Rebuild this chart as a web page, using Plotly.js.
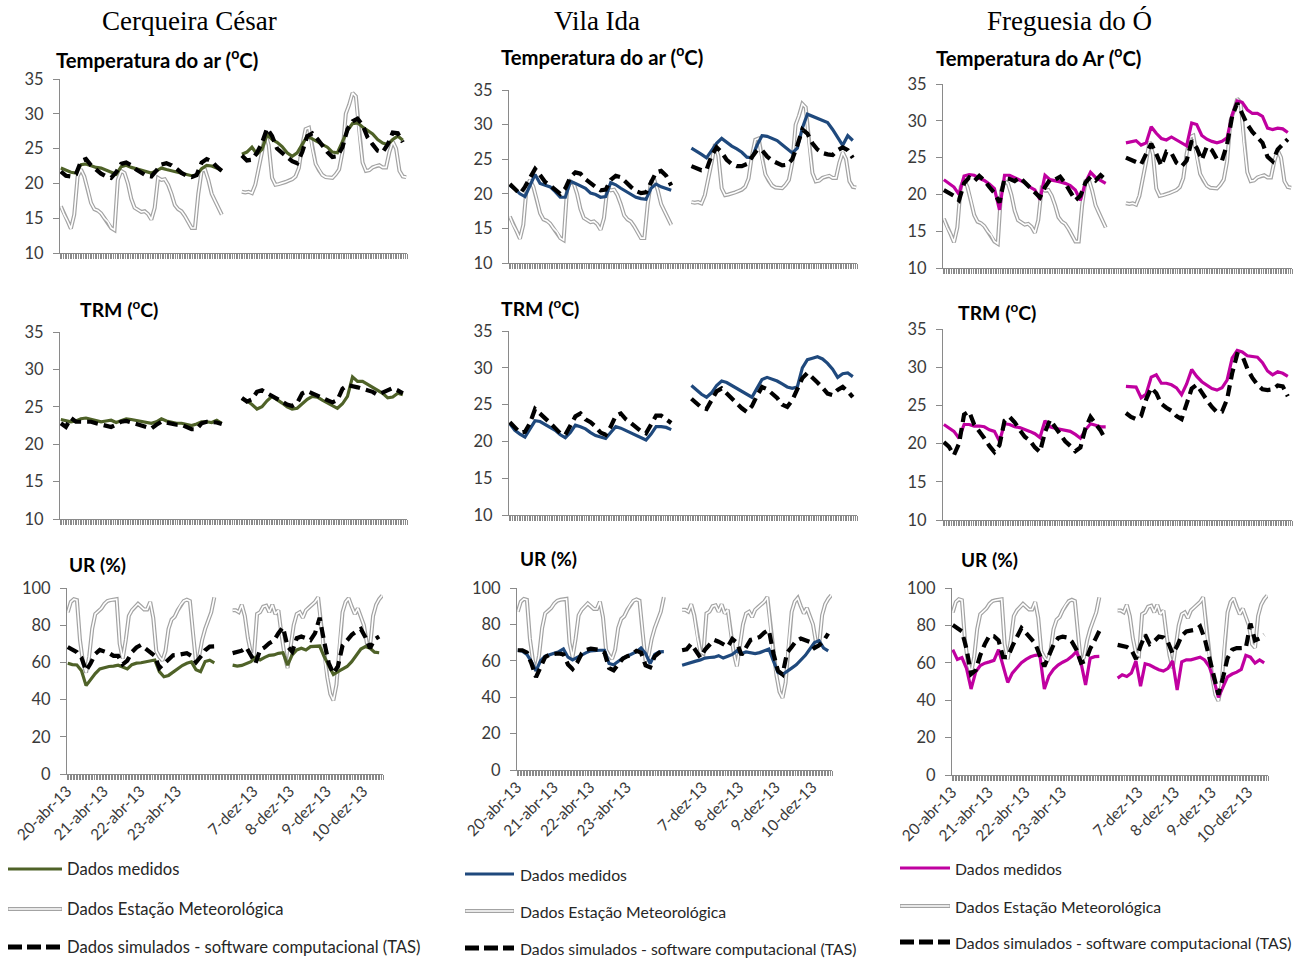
<!DOCTYPE html>
<html>
<head>
<meta charset="utf-8">
<script src="https://cdn.plot.ly/plotly-3.0.1.min.js"></script>
<style>html,body{margin:0;padding:0;background:#fff;}#chart{width:1301px;height:958px;}</style>
</head>
<body>
<div id="chart"></div>
<script>
// ---------- categories (hour index of the series) ----------
const hoursApr3 = [0,3,6,9,12,15,18,21,24,27,30,33,36,39,42,45,48,51,54,57,60,63,66,69,72,75,78,81,84,87,90,93,96];
const hoursDec3 = [108,111,114,117,120,123,126,129,132,135,138,141,144,147,150,153,156,159,162,165,168,171,174,177,180,183,186,189,192,195,198,201,204];
const hoursApr2 = [0,2,4,6,8,10,12,14,16,18,20,22,24,26,28,30,32,34,36,38,40,42,44,46,48,50,52,54,56,58,60,62,64,66,68,70,72,74,76,78,80,82,84,86,88,90,92,94,96];
const hoursDec2 = [108,110,112,114,116,118,120,122,124,126,128,130,132,134,136,138,140,142,144,146,148,150,152,154,156,158,160,162,164,166,168,170,172,174,176,178,180,182,184,186,188,190,192,194,196,198,200,202,204,206];
const gapHour = 102;
const dayTickHours = [1.5,25.5,49.5,73.5,123.5,147.5,171.5,195.5];
const dayLabels = ['20-abr-13','21-abr-13','22-abr-13','23-abr-13','7-dez-13','8-dez-13','9-dez-13','10-dez-13'];

// ---------- weather station (same for the three sites) ----------
const stationTempApr = [16.7,15.5,14.6,13.5,15.5,21.0,22.0,21.0,19.2,17.2,16.3,16.1,15.7,15.0,14.5,13.6,13.3,20.5,21.8,21.5,20.0,17.8,16.5,16.2,15.9,16.0,15.6,14.8,16.5,20.8,20.5,20.6,19.8,18.5,16.9,16.3,16.0,15.3,14.5,13.6,13.6,18.5,21.8,22.0,20.5,18.5,17.5,16.5,15.5];
const stationTempDec = [18.8,18.7,18.8,18.6,19.8,22.0,24.5,27.2,25.5,20.8,19.8,19.9,20.0,20.2,20.4,20.6,21.0,22.2,25.5,27.8,28.0,25.0,22.8,21.9,21.2,20.9,20.8,20.8,21.3,22.0,24.5,30.0,31.3,33.0,32.5,27.0,23.0,21.8,21.9,22.3,22.5,22.6,22.3,22.3,24.5,26.0,25.0,21.8,21.0,20.9];
const stationURApr = [87,92.5,94,93.5,72,60,54.5,63,78,86,87.5,89,91.5,93,93.5,93.7,94,70,62,72,85,88,90,91.5,90,88.5,88.5,92.5,84,66,63,61,66,78,83,84.5,88,91,93,93.7,93,76,60,63,72,78,83,87,95];
const stationURDec = [88,88,87,91,85,73,65,64,86,87,90,90.5,87,91,86,88,75,64,57,70,80,86,87,84,88,89.5,91,92.5,95,80,63,52,43,39.6,48,70,87,92.5,94.5,90,86,89,85,80,70,68,85,91,94,96];

// ---------- Cerqueira César ----------
const ccTempMedApr = [22.2,21.9,21.6,21.5,22.7,22.8,22.5,22.3,22.2,21.9,21.5,21.3,22.4,22.6,22.3,22.1,21.9,21.7,21.5,21.8,22.2,22.0,21.8,21.6,21.4,21.3,21.1,21.2,22.1,22.6,22.5,22.2,21.9];
const ccTempMedDec = [24.2,24.5,25.2,24.2,24.9,27.0,26.3,25.9,25.3,24.4,23.9,24.4,25.6,26.8,26.4,26.0,25.7,25.2,24.5,24.4,26.0,27.6,28.6,28.7,28.1,27.6,27.1,26.3,25.8,25.6,26.3,26.8,26.2];
const ccTempSimApr = [21.7,21.1,21.0,21.3,23.2,23.5,22.6,21.9,21.4,21.0,20.8,21.6,22.8,23.0,22.6,22.0,21.5,21.1,21.0,21.9,22.7,22.9,22.6,22.1,21.5,21.1,20.9,21.2,23.0,23.5,23.2,22.4,21.8];
const ccTempSimDec = [24.0,23.3,23.4,24.4,25.8,27.9,26.8,25.0,24.4,23.8,23.2,22.9,24.5,26.8,27.2,26.4,25.4,24.5,23.8,23.9,25.2,27.8,28.9,29.3,28.4,26.6,25.6,24.7,24.5,25.6,27.3,27.2,25.9];
const ccTrmMedApr = [23.3,23.2,23.0,23.1,23.4,23.5,23.3,23.2,23.0,23.1,23.2,22.9,23.2,23.4,23.3,23.2,23.1,23.0,22.8,23.0,23.4,23.1,22.9,22.8,22.8,22.6,22.5,22.7,23.0,23.0,22.9,23.2,22.8];
const ccTrmMedDec = [26.0,25.8,25.3,24.7,25.0,25.8,26.4,26.0,25.5,25.0,24.7,24.8,25.4,26.0,26.4,26.3,25.9,25.5,25.2,24.8,25.4,26.4,29.0,28.4,28.4,28.0,27.6,27.2,26.8,26.2,26.3,26.8,26.6];
const ccTrmSimApr = [22.8,22.3,23.5,23.0,23.0,23.0,23.0,22.8,22.6,22.4,22.3,22.6,23.0,23.1,22.9,22.6,22.4,22.2,22.1,22.6,23.0,22.9,22.7,22.6,22.6,22.3,22.0,22.0,22.8,23.0,23.0,22.9,22.7];
const ccTrmSimDec = [26.2,25.7,26.0,27.0,27.2,26.8,26.4,26.1,25.7,25.3,25.1,25.5,26.8,27.1,26.8,26.5,26.1,25.8,25.6,25.9,27.4,27.9,27.8,27.6,27.4,27.2,27.0,26.6,26.9,27.2,27.5,27.2,26.8];
const ccUrMedApr = [59.5,58.8,58.6,55.5,47.5,51,54,56.5,57.3,57.8,58.0,58.5,57.5,56.5,58.8,59.6,59.8,60.2,60.8,61.3,55,52.3,53,54.8,56.7,58.3,59.5,60.3,56,55,60.5,61.2,59.8];
const ccUrMedDec = [58.5,58.0,58.4,59.5,60.4,62.7,61.3,62.7,63.8,64.0,64.9,65.2,58.5,64.0,66.7,67.6,66.7,68.5,68.5,68.8,63.0,58.5,53.5,55.0,56.6,57.8,60.4,63.8,67.2,68.5,67.6,65.5,65.2];
const ccUrSimApr = [68.3,67.0,65.5,62.5,55.5,59.5,64.5,66.7,66.0,65.0,63.5,63.5,59.0,61.0,65.5,68.0,69.4,67.5,65.5,63.5,57.0,59.5,62.0,63.8,64.0,64.3,64.9,63.5,60.0,63.0,66.5,68.5,68.6];
const ccUrSimDec = [65.0,65.4,66.3,68.1,64.0,59.5,66.7,68.1,70.3,71.7,75.7,78.9,68.5,65.8,73.0,73.9,73.0,72.0,75.7,84.0,71.0,59.5,54.0,58.0,69.0,72.0,74.8,76.6,78.0,73.5,67.6,72.4,73.9];

// ---------- Vila Ida ----------
const viTempMedApr = [21.2,20.7,20.0,19.6,21.2,22.8,21.5,21.2,21.0,20.3,19.5,19.5,21.8,21.5,21.1,20.8,20.1,19.9,19.5,19.6,21.6,21.3,20.8,20.4,20.0,19.5,19.3,19.2,20.8,21.4,21.0,20.8,20.5];
const viTempMedDec = [26.6,26.2,25.7,25.2,26.3,27.3,28.0,27.4,26.9,26.5,26.0,25.3,25.2,27.0,28.4,28.3,28.0,27.7,27.1,26.5,25.9,26.6,29.5,31.5,31.2,30.8,30.5,30.3,29.3,28.2,27.0,28.4,27.7];
const viTempSimApr = [21.4,20.7,20.0,21.0,22.4,23.6,22.7,21.7,21.2,20.6,20.0,20.8,22.4,23.1,22.9,22.1,21.5,21.0,20.5,20.6,22.0,22.6,22.4,21.6,21.0,20.4,20.1,20.2,21.8,23.1,23.3,22.6,21.2];
const viTempSimDec = [24.0,23.7,23.4,23.5,25.5,26.7,26.0,24.9,24.3,24.0,24.0,24.3,25.2,26.3,26.3,25.4,24.8,24.4,24.1,24.2,25.0,27.0,29.3,28.7,27.3,26.4,25.9,25.7,25.6,26.3,26.7,26.3,25.2];
const viTrmMedApr = [22.4,21.5,21.0,20.6,21.7,22.8,22.7,22.3,22.0,21.5,20.9,20.5,21.2,22.2,22.0,21.7,21.2,20.8,20.6,20.4,21.2,22.0,21.8,21.5,21.2,20.9,20.6,20.2,21.0,22.0,22.0,21.9,21.6];
const viTrmMedDec = [27.6,27.0,26.4,26.0,26.6,27.6,28.2,28.0,27.6,27.2,26.7,26.4,26.0,27.2,28.4,28.7,28.5,28.2,27.8,27.4,27.2,27.4,30.0,31.1,31.3,31.5,31.2,30.6,29.8,28.7,29.2,29.3,28.8];
const viTrmSimApr = [22.6,21.8,21.2,21.3,22.5,24.4,23.8,23.1,22.5,21.8,21.1,20.9,22.3,23.4,23.8,23.0,22.6,22.0,21.2,20.9,22.0,23.5,23.8,23.0,22.5,22.0,21.4,21.1,22.4,23.5,23.5,23.0,22.5];
const viTrmSimDec = [25.8,25.1,24.6,24.4,25.6,26.8,27.2,26.5,25.7,25.1,24.5,24.0,24.8,26.2,27.4,27.1,26.5,25.9,25.0,24.7,25.6,27.0,28.6,29.3,28.7,28.0,27.3,26.5,26.3,27.0,27.4,26.8,26.0];
const viUrMedApr = [65.8,65.3,63.5,59.5,54.5,60.0,62.5,63.3,63.8,65.0,66.5,62.0,60.5,62.0,63.0,64.5,65.5,65.8,65.8,65.8,58.5,57.8,59.5,61.5,62.5,63.8,65.0,67.0,64.0,58.5,63.5,64.9,65.0];
const viUrMedDec = [57.6,58.2,59.0,59.8,60.5,61.5,61.8,62.0,62.8,61.5,62.5,63.5,65.5,64.0,64.9,64.5,64.0,64.5,65.3,66.5,60.0,53.5,52.5,54.5,56.0,57.8,60.3,63.0,66.5,70.0,71.0,67.0,65.5];
const viUrSimApr = [65.8,65.8,64.5,58.5,51.0,56.5,62.0,63.5,64.0,64.0,63.5,58.0,55.5,59.0,64.0,66.0,66.7,66.5,66.0,64.5,56.0,54.8,58.0,61.2,62.5,63.5,65.5,64.5,57.5,56.5,62.5,64.5,65.5];
const viUrSimDec = [65.8,66.3,69.3,66.0,61.8,66.0,69.0,71.5,70.5,69.0,67.8,72.0,70.0,63.2,67.0,71.5,72.2,73.1,75.5,77.0,64.0,54.5,52.5,64.5,67.6,71.0,72.2,71.5,70.4,67.0,68.5,71.0,75.0];

// ---------- Freguesia do Ó ----------
const foTempMedApr = [22.0,21.5,21.0,20.0,22.5,22.7,22.6,22.2,21.9,21.4,20.8,17.9,22.6,22.6,22.3,22.0,21.6,21.0,20.6,19.3,22.6,22.0,21.9,21.7,21.5,21.2,20.6,19.2,21.6,23.0,22.3,21.9,21.5];
const foTempMedDec = [27.0,27.1,27.3,26.7,27.0,29.2,28.3,27.6,27.4,27.8,27.4,26.9,26.6,29.7,29.5,28.0,27.5,27.2,27.0,27.2,27.7,30.8,32.7,32.5,31.5,31.0,31.0,30.6,29.0,28.8,29.0,28.9,28.4];
const foTempSimApr = [20.6,20.2,19.8,19.2,21.5,22.3,21.8,22.5,21.9,21.0,20.2,18.9,22.2,22.1,21.8,22.3,21.6,20.8,20.1,19.6,21.0,22.0,22.0,22.4,21.5,20.3,19.2,19.8,21.6,22.4,21.9,22.6,22.0];
const foTempSimDec = [25.0,24.7,24.3,24.1,25.5,26.9,25.5,23.9,25.8,25.6,24.3,23.8,24.6,27.3,26.3,24.7,26.5,26.0,24.8,24.6,26.8,30.6,32.4,30.8,29.5,28.5,27.8,27.0,25.1,24.5,26.1,26.9,27.5];
const foTrmMedApr = [22.5,22.0,21.6,20.7,22.5,22.5,22.3,22.3,22.2,21.8,21.6,20.3,22.6,22.5,22.2,22.1,21.9,21.6,21.3,20.8,23.0,22.2,22.0,21.9,21.8,21.6,21.2,20.7,21.8,22.6,22.4,22.2,22.2];
const foTrmMedDec = [27.5,27.5,27.4,26.0,26.5,28.7,29.0,27.9,27.9,27.7,27.3,26.4,27.8,29.7,28.8,28.1,27.6,27.2,27.0,27.3,28.3,31.2,32.2,32.0,31.5,31.4,31.3,30.6,29.5,29.0,29.4,29.2,28.8];
const foTrmSimApr = [20.2,19.6,18.5,20.0,23.8,24.2,22.5,21.7,20.7,19.7,18.9,19.8,23.0,23.5,22.8,21.8,20.9,20.4,19.5,18.9,21.5,23.1,22.2,21.1,20.3,19.7,19.0,19.5,22.0,23.5,22.6,21.7,20.5];
const foTrmSimDec = [24.0,23.5,23.2,23.6,25.8,27.3,26.6,25.2,24.7,24.3,23.6,23.2,25.2,27.2,27.7,26.6,25.7,24.8,24.1,24.2,25.8,29.2,31.7,31.5,29.8,28.6,27.7,27.1,27.0,27.1,27.6,27.5,26.2];
const foUrMedApr = [67.0,61.8,62.8,57.0,46.0,55.0,58.5,59.8,60.5,61.3,67.0,58.0,49.5,54.5,57.5,60.0,61.8,63.2,64.0,64.3,46.0,53.0,56.5,58.8,60.3,61.5,63.5,66.0,60.0,48.2,62.5,63.3,63.4];
const foUrMedDec = [51.8,53.6,52.7,54.5,61.0,47.5,59.5,58.8,57.5,56.3,55.6,57.0,61.0,45.5,60.5,61.6,61.6,62.3,63.0,61.5,58.0,51.0,41.5,47.0,52.5,54.0,55.0,56.5,64.0,63.0,59.8,61.5,60.0];
const foUrSimApr = [80.2,78.5,76.8,67.5,54.0,56.0,64.0,70.0,74.5,74.2,72.0,63.0,63.0,68.8,74.3,78.6,76.0,72.8,70.3,64.0,58.0,64.0,69.6,73.2,74.0,73.5,71.3,67.0,60.0,61.0,67.5,72.0,77.0];
const foUrSimDec = [69.6,68.8,68.5,67.0,62.0,69.0,75.0,70.0,71.5,74.0,73.5,71.0,65.0,69.0,74.5,76.8,77.0,77.7,79.5,73.0,63.0,54.0,43.0,52.0,62.5,67.0,67.9,67.9,68.0,81.0,72.0,73.0,75.0];

// ---------- texts ----------
const siteNames = ['Cerqueira César','Vila Ida','Freguesia do Ó'];
const panelTitles = [
  ['Temperatura do ar (<sup>o</sup>C)','TRM (<sup>o</sup>C)','UR (%)'],
  ['Temperatura do ar (<sup>o</sup>C)','TRM (<sup>o</sup>C)','UR (%)'],
  ['Temperatura do Ar (<sup>o</sup>C)','TRM (<sup>o</sup>C)','UR (%)']
];
const seriesNames = ['Dados medidos','Dados Estação Meteorológica','Dados simulados - software computacional (TAS)'];

// ---------- styling / layout ----------
const W = 1301, H = 958;
const measuredColors = ['#4F6228','#1F497D','#C000A0'];
const axisGrey = '#8a8a8a';
const stationGrey = '#a3a3a3';
const titleSizes = [20.3, 19.4, 19];
const legendSizes = [16.6, 15.8, 15.8];
// plot boxes per site [row][x0,x1,yTop,yBottom] in pixels
const boxes = [
  [[60,407,79,253],[60,407,332,519],[67,383,588,774]],
  [[509,857,90,263],[509,857,331,515],[517,832,588,770]],
  [[943,1292,84,268],[943,1292,329,520],[952,1268,588,775]]
];
const titlePos = [
  [[54,59],[78,308],[67,564]],
  [[499,56],[499,307],[518,558]],
  [[934,57],[956,311],[959,559]]
];
const siteTitleX = [189,597,1069];
const legendPos = [
  {x0:8,x1:62,tx:65,ys:[869,909,947]},
  {x0:465,x1:514,tx:518,ys:[874,911,948]},
  {x0:900,x1:950,tx:953,ys:[868,906,942]}
];

const data = {
  0: [[ccTempMedApr,ccTempMedDec,ccTempSimApr,ccTempSimDec],[ccTrmMedApr,ccTrmMedDec,ccTrmSimApr,ccTrmSimDec],[ccUrMedApr,ccUrMedDec,ccUrSimApr,ccUrSimDec]],
  1: [[viTempMedApr,viTempMedDec,viTempSimApr,viTempSimDec],[viTrmMedApr,viTrmMedDec,viTrmSimApr,viTrmSimDec],[viUrMedApr,viUrMedDec,viUrSimApr,viUrSimDec]],
  2: [[foTempMedApr,foTempMedDec,foTempSimApr,foTempSimDec],[foTrmMedApr,foTrmMedDec,foTrmSimApr,foTrmSimDec],[foUrMedApr,foUrMedDec,foUrSimApr,foUrSimDec]]
};

function joinX(a, d) { return a.concat([gapHour], d); }
function joinY(a, d) { return a.concat([null], d); }

const traces = [];
const layout = {
  width: W, height: H,
  margin: {l:0, r:0, t:0, b:0},
  paper_bgcolor: '#ffffff', plot_bgcolor: '#ffffff',
  showlegend: false,
  font: {family: 'Lato, sans-serif', color: '#3a3a3a'},
  annotations: [], shapes: []
};

let idx = 0;
for (let c = 0; c < 3; c++) {
  for (let r = 0; r < 3; r++) {
    idx++;
    const xa = idx === 1 ? 'x' : 'x' + idx;
    const ya = idx === 1 ? 'y' : 'y' + idx;
    const b = boxes[c][r];
    const isUR = r === 2;
    layout['xaxis' + (idx === 1 ? '' : idx)] = {
      domain: [b[0] / W, b[1] / W], anchor: ya,
      range: [-0.5, 206.5], fixedrange: true,
      showline: true, linecolor: axisGrey, linewidth: 1,
      showgrid: false, zeroline: false,
      tickmode: 'array', tickvals: dayTickHours, ticktext: dayLabels,
      ticks: 'outside', ticklen: 5, tickcolor: axisGrey, tickwidth: 1,
      showticklabels: isUR, tickangle: -45,
      ticklabelstandoff: -4, ticklabelshift: -3,
      tickfont: {family: 'Lato, sans-serif', size: 15.5, color: '#3a3a3a'},
      minor: {tickmode: 'linear', tick0: -0.5, dtick: 1, ticks: 'outside', ticklen: 5, tickcolor: axisGrey, tickwidth: 1, showgrid: false}
    };
    layout['yaxis' + (idx === 1 ? '' : idx)] = {
      domain: [1 - b[3] / H, 1 - b[2] / H], anchor: xa,
      range: isUR ? [0, 100] : [10, 35], dtick: isUR ? 20 : 5, tick0: 0,
      fixedrange: true,
      showline: true, linecolor: axisGrey, linewidth: 1,
      showgrid: false, zeroline: false,
      ticks: 'outside', ticklen: 6, tickcolor: axisGrey,
      ticklabelstandoff: 6,
      tickfont: {family: 'Lato, sans-serif', size: 16.5, color: '#3a3a3a'}
    };
    // station (double grey line)
    if (r !== 1) {
      const sa = r === 0 ? stationTempApr : stationURApr;
      const sd = r === 0 ? stationTempDec : stationURDec;
      const sx = joinX(hoursApr2, hoursDec2), sy = joinY(sa, sd);
      traces.push({type:'scatter', mode:'lines', x:sx, y:sy, xaxis:xa, yaxis:ya,
        line:{color:stationGrey, width:4}, hoverinfo:'skip', name:seriesNames[1]});
      traces.push({type:'scatter', mode:'lines', x:sx, y:sy, xaxis:xa, yaxis:ya,
        line:{color:'#ffffff', width:1.6}, hoverinfo:'skip', name:seriesNames[1]});
    }
    const d = data[c][r];
    traces.push({type:'scatter', mode:'lines', x:joinX(hoursApr3, hoursDec3), y:joinY(d[0], d[1]),
      xaxis:xa, yaxis:ya, line:{color:measuredColors[c], width:3.2}, name:seriesNames[0]});
    traces.push({type:'scatter', mode:'lines', x:joinX(hoursApr3, hoursDec3), y:joinY(d[2], d[3]),
      xaxis:xa, yaxis:ya, line:{color:'#000000', width:4.2, dash:'11px,6px'}, name:seriesNames[2]});

    // panel title
    const tp = titlePos[c][r];
    layout.annotations.push({xref:'paper', yref:'paper', x:tp[0]/W, y:1-tp[1]/H,
      xanchor:'left', yanchor:'middle', showarrow:false, text:panelTitles[c][r],
      font:{family:'Lato, sans-serif', size:titleSizes[r], color:'#000000', weight:'bold'}});
  }
  // site title
  layout.annotations.push({xref:'paper', yref:'paper', x:siteTitleX[c]/W, y:1-21/H,
    xanchor:'center', yanchor:'middle', showarrow:false, text:siteNames[c],
    font:{family:'Liberation Serif, Times New Roman, serif', size:27, color:'#000000'}});
  // legend
  const lp = legendPos[c];
  layout.shapes.push({type:'line', xref:'paper', yref:'paper', x0:lp.x0/W, x1:lp.x1/W, y0:1-lp.ys[0]/H, y1:1-lp.ys[0]/H,
    line:{color:measuredColors[c], width:3.2}});
  layout.shapes.push({type:'line', xref:'paper', yref:'paper', x0:lp.x0/W, x1:lp.x1/W, y0:1-lp.ys[1]/H, y1:1-lp.ys[1]/H,
    line:{color:stationGrey, width:4}});
  layout.shapes.push({type:'line', xref:'paper', yref:'paper', x0:(lp.x0+0.5)/W, x1:(lp.x1-0.5)/W, y0:1-lp.ys[1]/H, y1:1-lp.ys[1]/H,
    line:{color:'#ffffff', width:1.6}});
  layout.shapes.push({type:'line', xref:'paper', yref:'paper', x0:lp.x0/W, x1:lp.x1/W, y0:1-lp.ys[2]/H, y1:1-lp.ys[2]/H,
    line:{color:'#000000', width:5, dash:'14px,5px'}});
  for (let k = 0; k < 3; k++) {
    layout.annotations.push({xref:'paper', yref:'paper', x:lp.tx/W, y:1-lp.ys[k]/H,
      xanchor:'left', yanchor:'middle', showarrow:false, text:seriesNames[k],
      font:{family:'Lato, sans-serif', size:legendSizes[c], color:'#262626'}});
  }
}

Plotly.newPlot('chart', traces, layout, {staticPlot:true, displayModeBar:false});
</script>
</body>
</html>
